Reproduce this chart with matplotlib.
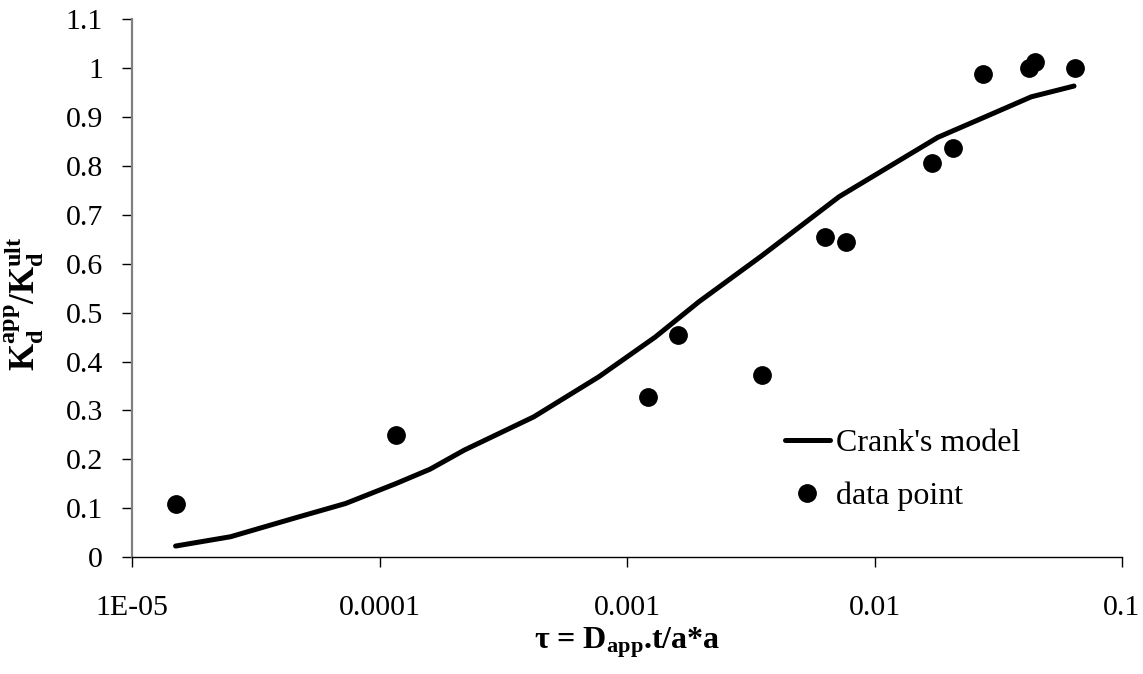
import matplotlib
matplotlib.use("Agg")
import matplotlib.pyplot as plt
from matplotlib.ticker import FixedLocator, FixedFormatter

# Fuente tipo Times para todo el gráfico
plt.rcParams['font.family'] = ['Liberation Serif', 'DejaVu Serif']
plt.rcParams['mathtext.fontset'] = 'custom'
plt.rcParams['mathtext.rm'] = 'Liberation Serif'
plt.rcParams['mathtext.it'] = 'Liberation Serif:italic'
plt.rcParams['mathtext.bf'] = 'Liberation Serif:bold'

# Datos medidos
tau_data = [1.5e-5, 1.17e-4, 1.22e-3, 1.61e-3, 3.52e-3, 6.3e-3, 7.65e-3,
            0.0171, 0.0207, 0.0274, 0.0422, 0.0447, 0.0644]
kd_data = [0.108, 0.250, 0.327, 0.455, 0.372, 0.654, 0.645,
           0.806, 0.837, 0.987, 1.000, 1.013, 1.000]

# Modelo de Crank
tau_model = [1.5e-5, 2.5e-5, 4.6e-5, 7.3e-5, 1.17e-4, 1.6e-4, 2.2e-4, 4.2e-4,
             7.7e-4, 1.3e-3, 1.95e-3, 3.5e-3, 7.2e-3, 0.018, 0.028, 0.043, 0.064]
kd_model = [0.023, 0.042, 0.081, 0.110, 0.151, 0.180, 0.219, 0.287,
            0.369, 0.450, 0.522, 0.616, 0.737, 0.858, 0.900, 0.941, 0.963]

x_ticks = [1e-5, 1e-4, 1e-3, 1e-2, 1e-1]
x_labels = ['1E-05', '0.0001', '0.001', '0.01', '0.1']
y_ticks = [0, 0.1, 0.2, 0.3, 0.4, 0.5, 0.6, 0.7, 0.8, 0.9, 1.0, 1.1]
y_labels = ['0', '0.1', '0.2', '0.3', '0.4', '0.5', '0.6', '0.7', '0.8', '0.9', '1', '1.1']

fig = plt.figure(figsize=(11.43, 6.74), dpi=100)
ax = fig.add_axes([132/1143, 1 - 557.3/674, (1122 - 132)/1143, (557.3 - 19)/674])

ax.plot(tau_model, kd_model, color='black', lw=3.6, solid_capstyle='round',
        label="Crank's model")
ax.plot(tau_data, kd_data, 'o', color='black', ms=12.5, ls='none', label='data point')

ax.set_xscale('log')
ax.set_xlim(1e-5, 0.1)
ax.set_ylim(0, 1.1)
ax.xaxis.set_major_locator(FixedLocator(x_ticks))
ax.xaxis.set_major_formatter(FixedFormatter(x_labels))
ax.xaxis.set_minor_locator(FixedLocator([]))
ax.set_yticks(y_ticks)
ax.set_yticklabels(y_labels)

ax.spines['top'].set_visible(False)
ax.spines['right'].set_visible(False)
ax.spines['left'].set_color('#808080')
ax.spines['left'].set_linewidth(1.6)
ax.spines['bottom'].set_linewidth(1.0)
ax.tick_params(axis='both', direction='out', length=7, width=1, labelsize=21.5, colors='black')
ax.tick_params(axis='x', pad=20)
ax.tick_params(axis='y', pad=14)

ax.set_xlabel(r'τ = $\mathbf{D_{app}}$.t/a*a', fontsize=23, fontweight='bold', labelpad=3)
ax.set_ylabel(r'$\mathbf{K_d^{app}}$/$\mathbf{K_d^{ult}}$', fontsize=25, fontweight='bold')
ax.yaxis.set_label_coords((46 - 132)/990, (557.3 - 304)/538.3)

ax.legend(loc='center left', bbox_to_anchor=(785/1143, 1 - 470/674),
          bbox_transform=fig.transFigure, frameon=False, fontsize=23,
          handlelength=1.4, handletextpad=0.2, labelspacing=0.72,
          borderpad=0, borderaxespad=0)

plt.savefig('out.png', dpi=100)
